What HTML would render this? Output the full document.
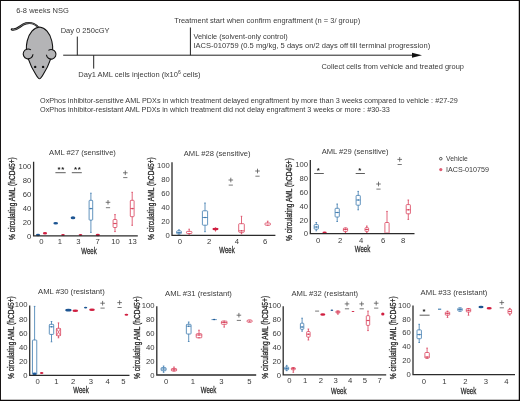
<!DOCTYPE html>
<html><head><meta charset="utf-8"><title>AML PDX OxPhos inhibitor figure</title>
<style>
html,body{margin:0;padding:0;background:#fff;}
svg{display:block;font-family:"Liberation Sans",sans-serif;}
</style></head><body>
<svg width="520" height="401" viewBox="0 0 520 401">
<rect x="0" y="0" width="520" height="401" fill="#fff"/>
<path d="M0 0H520V401H0ZM0.95 1.05V399.75H518.75V1.05Z" fill="#0d0a0a" fill-rule="evenodd"/>
<text x="16.2" y="12.7" font-size="7.4" fill="#3a3a3a" textLength="52.6" lengthAdjust="spacingAndGlyphs">6-8 weeks NSG</text>
<text x="60.7" y="33.4" font-size="7.4" fill="#3a3a3a" textLength="48.8" lengthAdjust="spacingAndGlyphs">Day 0 250cGY</text>
<text x="78.3" y="77.0" font-size="7.4" fill="#3a3a3a" textLength="122.2" lengthAdjust="spacingAndGlyphs">Day1 AML cells injection (lx10<tspan font-size="5" dy="-2.8">6</tspan><tspan dy="2.8"> cells)</tspan></text>
<text x="174.2" y="23.4" font-size="7.4" fill="#3a3a3a" textLength="186" lengthAdjust="spacingAndGlyphs">Treatment start when confirm engraftment (n = 3/ group)</text>
<text x="193.4" y="38.6" font-size="7.4" fill="#3a3a3a" textLength="94.2" lengthAdjust="spacingAndGlyphs">Vehicle (solvent-only control)</text>
<text x="193.4" y="48.0" font-size="7.4" fill="#3a3a3a" textLength="236.8" lengthAdjust="spacingAndGlyphs">IACS-010759 (0.5 mg/kg, 5 days on/2 days off till terminal progression)</text>
<text x="321.5" y="68.6" font-size="7.4" fill="#3a3a3a" textLength="142.4" lengthAdjust="spacingAndGlyphs">Collect cells from vehicle and treated group</text>
<text x="40" y="102.6" font-size="7.3" fill="#3a3a3a" textLength="417.7" lengthAdjust="spacingAndGlyphs">OxPhos inhibitor-sensitive AML PDXs in which treatment delayed engraftment by more than 3 weeks compared to vehicle : #27-29</text>
<text x="40" y="112.4" font-size="7.3" fill="#3a3a3a" textLength="349.8" lengthAdjust="spacingAndGlyphs">OxPhos inhibitor-resistant AML PDXs in which treatment did not delay engraftment 3 weeks or more : #30-33</text>
<path d="M63.2 55.2H414M77.3 36.6V55.2M93.7 55.2V68.6M190.4 27.5V55.2" stroke="#222" stroke-width="1" fill="none"/>
<path d="M412 52.7L422 55.2L412 57.7Z" fill="#111"/>
<g stroke="#111" stroke-width="1.1" fill="#b4b4b6" stroke-linejoin="round">
<path d="M11.8 29.4C17.5 30.8 20 25 26 23.4C31.5 22.2 36.5 24.5 39 28.6" fill="none" stroke-width="2.2" stroke-linecap="round"/>
<path d="M12 29.4C17.5 30.8 20 25 26 23.4C31.5 22.2 36.5 24.5 39 28.6" fill="none" stroke="#b4b4b6" stroke-width="0.55"/>
<path d="M39.5 27C45 27.5 50 33 51.8 41C53.5 48 52.6 54 50.6 59.2C49.2 63.5 46.2 69.8 43.3 74.2C42.2 76.2 41.3 77.3 40.7 78Q39.5 79.5 38.3 78C37.7 77.3 36.8 76.2 35.7 74.2C32.8 69.8 29.8 63.5 28.4 59.2C26.4 54 25.5 48 27.2 41C29 33 34 27.5 39.5 27Z"/>
<path d="M30.9 49.9A4.9 4.9 0 1 0 33 54.3"/>
<path d="M48.4 50.4A4.8 4.8 0 1 1 46.4 54.8"/>
<circle cx="35.2" cy="66.9" r="1.2" fill="#111" stroke="none"/><circle cx="43.1" cy="66.9" r="1.2" fill="#111" stroke="none"/>
</g>
<circle cx="440.8" cy="158.7" r="1.3" fill="#fff" stroke="#444" stroke-width="0.9"/>
<circle cx="440.8" cy="169.6" r="1.6" fill="#d9405a" opacity="0.85"/>
<text x="446" y="160.8" font-size="7.4" fill="#3a3a3a" textLength="21.8" lengthAdjust="spacingAndGlyphs">Vehicle</text>
<text x="446" y="172.0" font-size="7.4" fill="#3a3a3a" textLength="42.9" lengthAdjust="spacingAndGlyphs">IACS-010759</text>
<text x="31.400000000000002" y="238.55" font-size="7.7" text-anchor="end" fill="#3a3a3a" >0</text>
<text x="31.400000000000002" y="224.61" font-size="7.7" text-anchor="end" fill="#3a3a3a" >20</text>
<text x="31.400000000000002" y="210.67" font-size="7.7" text-anchor="end" fill="#3a3a3a" >40</text>
<text x="31.400000000000002" y="196.73" font-size="7.7" text-anchor="end" fill="#3a3a3a" >60</text>
<text x="31.400000000000002" y="182.79" font-size="7.7" text-anchor="end" fill="#3a3a3a" >80</text>
<text x="31.400000000000002" y="168.85" font-size="7.7" text-anchor="end" fill="#3a3a3a" >100</text>
<text x="41.5" y="244.2" font-size="7.7" text-anchor="middle" fill="#3a3a3a" >0</text>
<text x="59.8" y="244.2" font-size="7.7" text-anchor="middle" fill="#3a3a3a" >1</text>
<text x="78.5" y="244.2" font-size="7.7" text-anchor="middle" fill="#3a3a3a" >3</text>
<text x="97.6" y="244.2" font-size="7.7" text-anchor="middle" fill="#3a3a3a" >7</text>
<text x="115.6" y="244.2" font-size="7.7" text-anchor="middle" fill="#3a3a3a" >10</text>
<text x="132.6" y="244.2" font-size="7.7" text-anchor="middle" fill="#3a3a3a" >13</text>
<text x="82.5" y="155.3" font-size="7.4" text-anchor="middle" fill="#3a3a3a" textLength="66.8" lengthAdjust="spacingAndGlyphs">AML #27 (sensitive)</text>
<text x="89" y="254.4" font-size="9.2" text-anchor="middle" fill="#2a2a2a" stroke="#2a2a2a" stroke-width="0.3" textLength="15.4" lengthAdjust="spacingAndGlyphs">Week</text>
<text x="15.2" y="198.6" font-size="8.8" text-anchor="middle" fill="#2a2a2a" stroke="#2a2a2a" stroke-width="0.3" textLength="82.8" lengthAdjust="spacingAndGlyphs" transform="rotate(-90 15.2 198.6)">% circulating AML (hCD45+)</text>
<ellipse cx="38" cy="235" rx="2.1" ry="1.2" fill="#1d5592"/>
<ellipse cx="45" cy="233.3" rx="2.1" ry="1.2" fill="#d01f40"/>
<ellipse cx="55.7" cy="223.3" rx="2.35" ry="1.3" fill="#1d5592"/>
<ellipse cx="63" cy="235" rx="1.85" ry="1.05" fill="#d01f40"/>
<ellipse cx="73" cy="217.8" rx="2.35" ry="1.5" fill="#1d5592"/>
<ellipse cx="80.5" cy="235" rx="1.85" ry="1.05" fill="#d01f40"/>
<line x1="90.9" y1="193.2" x2="90.9" y2="232.4" stroke="#3b78ad" stroke-width="0.8"/>
<rect x="89.10000000000001" y="200.3" width="3.6" height="19.8" rx="0.7" fill="#fff" stroke="#3b78ad" stroke-width="0.8"/>
<line x1="89.10000000000001" y1="208.6" x2="92.7" y2="208.6" stroke="#3b78ad" stroke-width="0.8"/>
<circle cx="90.9" cy="208.6" r="0.8" fill="#3b78ad"/>
<line x1="90.10000000000001" y1="193.2" x2="91.7" y2="193.2" stroke="#3b78ad" stroke-width="0.8"/>
<line x1="90.10000000000001" y1="232.4" x2="91.7" y2="232.4" stroke="#3b78ad" stroke-width="0.8"/>
<ellipse cx="97.8" cy="235" rx="2.1" ry="1.2" fill="#d01f40"/>
<path d="M105.7 202.3H110.3M108 200.0V204.60000000000002M105.9 207.7H110.1" stroke="#555" stroke-width="0.8" fill="none"/>
<line x1="115" y1="214.6" x2="115" y2="231.6" stroke="#d9405a" stroke-width="0.8"/>
<rect x="113.1" y="219.5" width="3.8" height="8.0" rx="0.7" fill="#fff" stroke="#d9405a" stroke-width="0.8"/>
<line x1="113.1" y1="223.5" x2="116.9" y2="223.5" stroke="#d9405a" stroke-width="0.8"/>
<circle cx="115" cy="223.5" r="0.8" fill="#d9405a"/>
<line x1="114.2" y1="214.6" x2="115.8" y2="214.6" stroke="#d9405a" stroke-width="0.8"/>
<line x1="114.2" y1="231.6" x2="115.8" y2="231.6" stroke="#d9405a" stroke-width="0.8"/>
<path d="M123.0 172.8H127.6M125.3 170.5V175.10000000000002M123.2 177.6H127.39999999999999" stroke="#555" stroke-width="0.8" fill="none"/>
<line x1="132.2" y1="192.3" x2="132.2" y2="225.3" stroke="#d9405a" stroke-width="0.8"/>
<rect x="130.29999999999998" y="200.3" width="3.8" height="16.4" rx="0.7" fill="#fff" stroke="#d9405a" stroke-width="0.8"/>
<line x1="130.29999999999998" y1="208.6" x2="134.1" y2="208.6" stroke="#d9405a" stroke-width="0.8"/>
<circle cx="132.2" cy="208.6" r="0.8" fill="#d9405a"/>
<line x1="131.39999999999998" y1="192.3" x2="133.0" y2="192.3" stroke="#d9405a" stroke-width="0.8"/>
<line x1="131.39999999999998" y1="225.3" x2="133.0" y2="225.3" stroke="#d9405a" stroke-width="0.8"/>
<text x="58.949999999999996" y="171.92" font-size="7.8" text-anchor="middle" fill="#1a1a1a" font-weight="bold">*</text>
<text x="62.65" y="171.92" font-size="7.8" text-anchor="middle" fill="#1a1a1a" font-weight="bold">*</text>
<line x1="55.4" y1="172.7" x2="65.7" y2="172.7" stroke="#333" stroke-width="0.8"/>
<text x="75.55000000000001" y="171.92" font-size="7.8" text-anchor="middle" fill="#1a1a1a" font-weight="bold">*</text>
<text x="79.25" y="171.92" font-size="7.8" text-anchor="middle" fill="#1a1a1a" font-weight="bold">*</text>
<line x1="71.8" y1="172.7" x2="81.8" y2="172.7" stroke="#333" stroke-width="0.8"/>
<path d="M33.6 161.7V235.8H137.8" stroke="#2b2b2b" stroke-width="1.3" fill="none"/>
<text x="169.8" y="238.05" font-size="7.7" text-anchor="end" fill="#3a3a3a" >0</text>
<text x="169.8" y="224.03" font-size="7.7" text-anchor="end" fill="#3a3a3a" >20</text>
<text x="169.8" y="210.01" font-size="7.7" text-anchor="end" fill="#3a3a3a" >40</text>
<text x="169.8" y="195.99" font-size="7.7" text-anchor="end" fill="#3a3a3a" >60</text>
<text x="169.8" y="181.97" font-size="7.7" text-anchor="end" fill="#3a3a3a" >80</text>
<text x="169.8" y="167.95" font-size="7.7" text-anchor="end" fill="#3a3a3a" >100</text>
<text x="180" y="244.3" font-size="7.7" text-anchor="middle" fill="#3a3a3a" >0</text>
<text x="209.2" y="244.3" font-size="7.7" text-anchor="middle" fill="#3a3a3a" >2</text>
<text x="236.9" y="244.3" font-size="7.7" text-anchor="middle" fill="#3a3a3a" >4</text>
<text x="265.2" y="244.3" font-size="7.7" text-anchor="middle" fill="#3a3a3a" >6</text>
<text x="217.2" y="155.7" font-size="7.4" text-anchor="middle" fill="#3a3a3a" textLength="66.8" lengthAdjust="spacingAndGlyphs">AML #28 (sensitive)</text>
<text x="227" y="252.6" font-size="9.2" text-anchor="middle" fill="#2a2a2a" stroke="#2a2a2a" stroke-width="0.3" textLength="15.4" lengthAdjust="spacingAndGlyphs">Week</text>
<text x="154.3" y="198.6" font-size="8.8" text-anchor="middle" fill="#2a2a2a" stroke="#2a2a2a" stroke-width="0.3" textLength="82.8" lengthAdjust="spacingAndGlyphs" transform="rotate(-90 154.3 198.6)">% circulating AML (hCD45+)</text>
<line x1="179" y1="229.8" x2="179" y2="234.2" stroke="#3b78ad" stroke-width="0.8"/>
<rect x="176.7" y="230.8" width="4.6" height="3.0" rx="0.7" fill="#fff" stroke="#3b78ad" stroke-width="0.8"/>
<line x1="176.7" y1="232.5" x2="181.3" y2="232.5" stroke="#3b78ad" stroke-width="0.8"/>
<circle cx="179" cy="232.5" r="0.8" fill="#3b78ad"/>
<line x1="178.2" y1="229.8" x2="179.8" y2="229.8" stroke="#3b78ad" stroke-width="0.8"/>
<line x1="178.2" y1="234.2" x2="179.8" y2="234.2" stroke="#3b78ad" stroke-width="0.8"/>
<line x1="189.2" y1="229.2" x2="189.2" y2="234.2" stroke="#d9405a" stroke-width="0.8"/>
<rect x="186.5" y="231.4" width="5.4" height="2.1" rx="0.7" fill="#fff" stroke="#d9405a" stroke-width="0.8"/>
<line x1="188.39999999999998" y1="229.2" x2="190.0" y2="229.2" stroke="#d9405a" stroke-width="0.8"/>
<line x1="188.39999999999998" y1="234.2" x2="190.0" y2="234.2" stroke="#d9405a" stroke-width="0.8"/>
<line x1="205" y1="203" x2="205" y2="231.7" stroke="#3b78ad" stroke-width="0.8"/>
<rect x="202.4" y="210.8" width="5.2" height="14.4" rx="0.7" fill="#fff" stroke="#3b78ad" stroke-width="0.8"/>
<line x1="202.4" y1="217.5" x2="207.6" y2="217.5" stroke="#3b78ad" stroke-width="0.8"/>
<circle cx="205" cy="217.5" r="0.8" fill="#3b78ad"/>
<line x1="204.2" y1="203" x2="205.8" y2="203" stroke="#3b78ad" stroke-width="0.8"/>
<line x1="204.2" y1="231.7" x2="205.8" y2="231.7" stroke="#3b78ad" stroke-width="0.8"/>
<line x1="215.5" y1="227.3" x2="215.5" y2="231.6" stroke="#d9405a" stroke-width="0.8"/>
<ellipse cx="215.5" cy="229.1" rx="3.05" ry="1.4" fill="#d01f40"/>
<path d="M228.5 180H233.10000000000002M230.8 177.7V182.3M228.70000000000002 185.1H232.9" stroke="#555" stroke-width="0.8" fill="none"/>
<line x1="241.5" y1="216.3" x2="241.5" y2="233.8" stroke="#d9405a" stroke-width="0.8"/>
<rect x="238.7" y="223.7" width="5.6" height="8.6" rx="0.7" fill="#fff" stroke="#d9405a" stroke-width="0.8"/>
<line x1="238.7" y1="230.8" x2="244.3" y2="230.8" stroke="#d9405a" stroke-width="0.8"/>
<circle cx="241.5" cy="230.8" r="0.8" fill="#d9405a"/>
<line x1="240.7" y1="216.3" x2="242.3" y2="216.3" stroke="#d9405a" stroke-width="0.8"/>
<line x1="240.7" y1="233.8" x2="242.3" y2="233.8" stroke="#d9405a" stroke-width="0.8"/>
<path d="M255.2 171H259.8M257.5 168.7V173.3M255.4 176.2H259.6" stroke="#555" stroke-width="0.8" fill="none"/>
<line x1="267.7" y1="221.2" x2="267.7" y2="225.2" stroke="#d9405a" stroke-width="0.8"/>
<rect x="265.0" y="223" width="5.4" height="2.2" rx="0.7" fill="#fff" stroke="#d9405a" stroke-width="0.8"/>
<line x1="266.9" y1="221.2" x2="268.5" y2="221.2" stroke="#d9405a" stroke-width="0.8"/>
<line x1="266.9" y1="225.2" x2="268.5" y2="225.2" stroke="#d9405a" stroke-width="0.8"/>
<path d="M172 162.2V235.3H275.4" stroke="#2b2b2b" stroke-width="1.3" fill="none"/>
<text x="308.1" y="236.45" font-size="7.7" text-anchor="end" fill="#3a3a3a" >0</text>
<text x="308.1" y="222.57" font-size="7.7" text-anchor="end" fill="#3a3a3a" >20</text>
<text x="308.1" y="208.69" font-size="7.7" text-anchor="end" fill="#3a3a3a" >40</text>
<text x="308.1" y="194.81" font-size="7.7" text-anchor="end" fill="#3a3a3a" >60</text>
<text x="308.1" y="180.93" font-size="7.7" text-anchor="end" fill="#3a3a3a" >80</text>
<text x="308.1" y="167.05" font-size="7.7" text-anchor="end" fill="#3a3a3a" >100</text>
<text x="318.1" y="242.9" font-size="7.7" text-anchor="middle" fill="#3a3a3a" >0</text>
<text x="340.1" y="242.9" font-size="7.7" text-anchor="middle" fill="#3a3a3a" >2</text>
<text x="361.2" y="242.9" font-size="7.7" text-anchor="middle" fill="#3a3a3a" >4</text>
<text x="383.1" y="242.9" font-size="7.7" text-anchor="middle" fill="#3a3a3a" >6</text>
<text x="403.2" y="242.9" font-size="7.7" text-anchor="middle" fill="#3a3a3a" >8</text>
<text x="355.1" y="153.7" font-size="7.4" text-anchor="middle" fill="#3a3a3a" textLength="66.8" lengthAdjust="spacingAndGlyphs">AML #29 (sensitive)</text>
<text x="362.5" y="252.2" font-size="9.2" text-anchor="middle" fill="#2a2a2a" stroke="#2a2a2a" stroke-width="0.3" textLength="15.4" lengthAdjust="spacingAndGlyphs">Week</text>
<text x="291.9" y="199.5" font-size="8.8" text-anchor="middle" fill="#2a2a2a" stroke="#2a2a2a" stroke-width="0.3" textLength="82.8" lengthAdjust="spacingAndGlyphs" transform="rotate(-90 291.9 199.5)">% circulating AML (hCD45+)</text>
<line x1="316.3" y1="222.5" x2="316.3" y2="230.8" stroke="#3b78ad" stroke-width="0.8"/>
<rect x="314.2" y="224.6" width="4.2" height="4.6" rx="0.7" fill="#fff" stroke="#3b78ad" stroke-width="0.8"/>
<line x1="314.2" y1="227" x2="318.40000000000003" y2="227" stroke="#3b78ad" stroke-width="0.8"/>
<circle cx="316.3" cy="227" r="0.8" fill="#3b78ad"/>
<line x1="315.5" y1="222.5" x2="317.1" y2="222.5" stroke="#3b78ad" stroke-width="0.8"/>
<line x1="315.5" y1="230.8" x2="317.1" y2="230.8" stroke="#3b78ad" stroke-width="0.8"/>
<ellipse cx="324.6" cy="232.6" rx="2.15" ry="1.1" fill="#d01f40"/>
<text x="318.2" y="172.72" font-size="7.8" text-anchor="middle" fill="#1a1a1a" font-weight="bold">*</text>
<line x1="314.2" y1="173.5" x2="323.8" y2="173.5" stroke="#333" stroke-width="0.8"/>
<line x1="337.2" y1="204" x2="337.2" y2="221.5" stroke="#3b78ad" stroke-width="0.8"/>
<rect x="335.09999999999997" y="208.3" width="4.2" height="8.7" rx="0.7" fill="#fff" stroke="#3b78ad" stroke-width="0.8"/>
<line x1="335.09999999999997" y1="212.5" x2="339.3" y2="212.5" stroke="#3b78ad" stroke-width="0.8"/>
<circle cx="337.2" cy="212.5" r="0.8" fill="#3b78ad"/>
<line x1="336.4" y1="204" x2="338.0" y2="204" stroke="#3b78ad" stroke-width="0.8"/>
<line x1="336.4" y1="221.5" x2="338.0" y2="221.5" stroke="#3b78ad" stroke-width="0.8"/>
<line x1="345.5" y1="228" x2="345.5" y2="233" stroke="#d9405a" stroke-width="0.8"/>
<rect x="343.4" y="228" width="4.2" height="3.4" rx="0.7" fill="#fff" stroke="#d9405a" stroke-width="0.8"/>
<line x1="343.4" y1="229.5" x2="347.6" y2="229.5" stroke="#d9405a" stroke-width="0.8"/>
<circle cx="345.5" cy="229.5" r="0.8" fill="#d9405a"/>
<line x1="344.7" y1="228" x2="346.3" y2="228" stroke="#d9405a" stroke-width="0.8"/>
<line x1="344.7" y1="233" x2="346.3" y2="233" stroke="#d9405a" stroke-width="0.8"/>
<line x1="358.2" y1="191.4" x2="358.2" y2="209.8" stroke="#3b78ad" stroke-width="0.8"/>
<rect x="356.09999999999997" y="195.4" width="4.2" height="9.8" rx="0.7" fill="#fff" stroke="#3b78ad" stroke-width="0.8"/>
<line x1="356.09999999999997" y1="200" x2="360.3" y2="200" stroke="#3b78ad" stroke-width="0.8"/>
<circle cx="358.2" cy="200" r="0.8" fill="#3b78ad"/>
<line x1="357.4" y1="191.4" x2="359.0" y2="191.4" stroke="#3b78ad" stroke-width="0.8"/>
<line x1="357.4" y1="209.8" x2="359.0" y2="209.8" stroke="#3b78ad" stroke-width="0.8"/>
<text x="359.8" y="172.72" font-size="7.8" text-anchor="middle" fill="#1a1a1a" font-weight="bold">*</text>
<line x1="355.7" y1="173.5" x2="364.9" y2="173.5" stroke="#333" stroke-width="0.8"/>
<line x1="366.8" y1="226" x2="366.8" y2="233" stroke="#d9405a" stroke-width="0.8"/>
<rect x="365.0" y="227.7" width="3.6" height="3.7" rx="0.7" fill="#fff" stroke="#d9405a" stroke-width="0.8"/>
<line x1="365.0" y1="229.5" x2="368.6" y2="229.5" stroke="#d9405a" stroke-width="0.8"/>
<circle cx="366.8" cy="229.5" r="0.8" fill="#d9405a"/>
<line x1="366.0" y1="226" x2="367.6" y2="226" stroke="#d9405a" stroke-width="0.8"/>
<line x1="366.0" y1="233" x2="367.6" y2="233" stroke="#d9405a" stroke-width="0.8"/>
<path d="M376.2 184H380.8M378.5 181.7V186.3M376.4 189.1H380.6" stroke="#555" stroke-width="0.8" fill="none"/>
<line x1="387" y1="211.4" x2="387" y2="233.2" stroke="#d9405a" stroke-width="0.8"/>
<rect x="384.9" y="222.5" width="4.2" height="10.7" rx="0.7" fill="#fff" stroke="#d9405a" stroke-width="0.8"/>
<line x1="386.2" y1="211.4" x2="387.8" y2="211.4" stroke="#d9405a" stroke-width="0.8"/>
<line x1="386.2" y1="233.2" x2="387.8" y2="233.2" stroke="#d9405a" stroke-width="0.8"/>
<path d="M397.4 159.4H402.0M399.7 157.1V161.70000000000002M397.59999999999997 164.5H401.8" stroke="#555" stroke-width="0.8" fill="none"/>
<line x1="408.3" y1="200" x2="408.3" y2="219.4" stroke="#d9405a" stroke-width="0.8"/>
<rect x="406.2" y="204.6" width="4.2" height="9.2" rx="0.7" fill="#fff" stroke="#d9405a" stroke-width="0.8"/>
<line x1="406.2" y1="209.8" x2="410.40000000000003" y2="209.8" stroke="#d9405a" stroke-width="0.8"/>
<circle cx="408.3" cy="209.8" r="0.8" fill="#d9405a"/>
<line x1="407.5" y1="200" x2="409.1" y2="200" stroke="#d9405a" stroke-width="0.8"/>
<line x1="407.5" y1="219.4" x2="409.1" y2="219.4" stroke="#d9405a" stroke-width="0.8"/>
<path d="M310.3 160V233.7H414.5" stroke="#2b2b2b" stroke-width="1.3" fill="none"/>
<text x="27.5" y="378.15" font-size="7.7" text-anchor="end" fill="#3a3a3a" >0</text>
<text x="27.5" y="363.99" font-size="7.7" text-anchor="end" fill="#3a3a3a" >20</text>
<text x="27.5" y="349.83" font-size="7.7" text-anchor="end" fill="#3a3a3a" >40</text>
<text x="27.5" y="335.67" font-size="7.7" text-anchor="end" fill="#3a3a3a" >60</text>
<text x="27.5" y="321.51" font-size="7.7" text-anchor="end" fill="#3a3a3a" >80</text>
<text x="27.5" y="307.35" font-size="7.7" text-anchor="end" fill="#3a3a3a" >100</text>
<text x="37.7" y="383.5" font-size="7.7" text-anchor="middle" fill="#3a3a3a" >0</text>
<text x="56.5" y="383.5" font-size="7.7" text-anchor="middle" fill="#3a3a3a" >1</text>
<text x="73.1" y="383.5" font-size="7.7" text-anchor="middle" fill="#3a3a3a" >2</text>
<text x="91" y="383.5" font-size="7.7" text-anchor="middle" fill="#3a3a3a" >3</text>
<text x="107.7" y="383.5" font-size="7.7" text-anchor="middle" fill="#3a3a3a" >4</text>
<text x="123.4" y="383.5" font-size="7.7" text-anchor="middle" fill="#3a3a3a" >5</text>
<text x="71.4" y="294.3" font-size="7.4" text-anchor="middle" fill="#3a3a3a" textLength="66.8" lengthAdjust="spacingAndGlyphs">AML #30 (resistant)</text>
<text x="81" y="392.8" font-size="9.2" text-anchor="middle" fill="#2a2a2a" stroke="#2a2a2a" stroke-width="0.3" textLength="15.4" lengthAdjust="spacingAndGlyphs">Week</text>
<text x="13.9" y="337.6" font-size="8.8" text-anchor="middle" fill="#2a2a2a" stroke="#2a2a2a" stroke-width="0.3" textLength="82.8" lengthAdjust="spacingAndGlyphs" transform="rotate(-90 13.9 337.6)">% circulating AML (hCD45+)</text>
<line x1="34.6" y1="306.4" x2="34.6" y2="374.4" stroke="#3b78ad" stroke-width="0.8"/>
<rect x="32.45" y="340" width="4.3" height="34.4" rx="0.7" fill="#fff" stroke="#3b78ad" stroke-width="0.8"/>
<line x1="33.800000000000004" y1="306.4" x2="35.4" y2="306.4" stroke="#3b78ad" stroke-width="0.8"/>
<line x1="33.800000000000004" y1="374.4" x2="35.4" y2="374.4" stroke="#3b78ad" stroke-width="0.8"/>
<ellipse cx="34.6" cy="373.8" rx="2.05" ry="1.4" fill="#1f5c9e"/>
<ellipse cx="41.7" cy="373.0" rx="1.75" ry="1.0" fill="#d01f40"/>
<line x1="51.5" y1="321.5" x2="51.5" y2="341.8" stroke="#3b78ad" stroke-width="0.8"/>
<rect x="49.3" y="324.3" width="4.4" height="10.1" rx="0.7" fill="#fff" stroke="#3b78ad" stroke-width="0.8"/>
<line x1="49.3" y1="326.8" x2="53.7" y2="326.8" stroke="#3b78ad" stroke-width="0.8"/>
<circle cx="51.5" cy="326.8" r="0.8" fill="#3b78ad"/>
<line x1="50.7" y1="321.5" x2="52.3" y2="321.5" stroke="#3b78ad" stroke-width="0.8"/>
<line x1="50.7" y1="341.8" x2="52.3" y2="341.8" stroke="#3b78ad" stroke-width="0.8"/>
<line x1="58.5" y1="322.9" x2="58.5" y2="337.8" stroke="#d9405a" stroke-width="0.8"/>
<rect x="56.4" y="328.3" width="4.2" height="7.5" rx="0.7" fill="#fff" stroke="#d9405a" stroke-width="0.8"/>
<line x1="57.7" y1="322.9" x2="59.3" y2="322.9" stroke="#d9405a" stroke-width="0.8"/>
<line x1="57.7" y1="337.8" x2="59.3" y2="337.8" stroke="#d9405a" stroke-width="0.8"/>
<path d="M56.6 328.6L60.4 335.5M60.4 328.6L56.6 335.5" stroke="#d9405a" stroke-width="0.7" fill="none"/>
<ellipse cx="68.4" cy="310.2" rx="3.15" ry="1.4" fill="#1d5592"/>
<ellipse cx="75.3" cy="310.8" rx="2.85" ry="1.3" fill="#d01f40"/>
<ellipse cx="85.6" cy="307.6" rx="1.65" ry="0.9" fill="#1d5592"/>
<ellipse cx="92" cy="309.8" rx="2.85" ry="1.3" fill="#d01f40"/>
<path d="M100.3 303.2H104.89999999999999M102.6 300.9V305.5M100.5 308.1H104.69999999999999" stroke="#555" stroke-width="0.8" fill="none"/>
<path d="M117.3 302.6H121.89999999999999M119.6 300.3V304.90000000000003M117.5 307.5H121.69999999999999" stroke="#555" stroke-width="0.8" fill="none"/>
<ellipse cx="126.4" cy="314.8" rx="1.85" ry="1.0" fill="#d01f40"/>
<path d="M29.7 305.5V375.4H129.5" stroke="#2b2b2b" stroke-width="1.3" fill="none"/>
<text x="154.60000000000002" y="377.75" font-size="7.7" text-anchor="end" fill="#3a3a3a" >0</text>
<text x="154.60000000000002" y="363.75" font-size="7.7" text-anchor="end" fill="#3a3a3a" >20</text>
<text x="154.60000000000002" y="349.75" font-size="7.7" text-anchor="end" fill="#3a3a3a" >40</text>
<text x="154.60000000000002" y="335.75" font-size="7.7" text-anchor="end" fill="#3a3a3a" >60</text>
<text x="154.60000000000002" y="321.75" font-size="7.7" text-anchor="end" fill="#3a3a3a" >80</text>
<text x="154.60000000000002" y="307.75" font-size="7.7" text-anchor="end" fill="#3a3a3a" >100</text>
<text x="166.1" y="383.5" font-size="7.7" text-anchor="middle" fill="#3a3a3a" >0</text>
<text x="192.8" y="383.5" font-size="7.7" text-anchor="middle" fill="#3a3a3a" >1</text>
<text x="221.3" y="383.5" font-size="7.7" text-anchor="middle" fill="#3a3a3a" >3</text>
<text x="249.3" y="383.5" font-size="7.7" text-anchor="middle" fill="#3a3a3a" >5</text>
<text x="198.5" y="295.5" font-size="7.4" text-anchor="middle" fill="#3a3a3a" textLength="66.8" lengthAdjust="spacingAndGlyphs">AML #31 (resistant)</text>
<text x="208.5" y="393" font-size="9.2" text-anchor="middle" fill="#2a2a2a" stroke="#2a2a2a" stroke-width="0.3" textLength="15.4" lengthAdjust="spacingAndGlyphs">Week</text>
<text x="139.7" y="337.6" font-size="8.8" text-anchor="middle" fill="#2a2a2a" stroke="#2a2a2a" stroke-width="0.3" textLength="82.8" lengthAdjust="spacingAndGlyphs" transform="rotate(-90 139.7 337.6)">% circulating AML (hCD45+)</text>
<line x1="163.6" y1="366" x2="163.6" y2="372.3" stroke="#3b78ad" stroke-width="0.8"/>
<rect x="161.1" y="367.6" width="5" height="3.1" rx="0.7" fill="#fff" stroke="#3b78ad" stroke-width="0.8"/>
<line x1="161.1" y1="369" x2="166.1" y2="369" stroke="#3b78ad" stroke-width="0.8"/>
<circle cx="163.6" cy="369" r="0.8" fill="#3b78ad"/>
<line x1="162.79999999999998" y1="366" x2="164.4" y2="366" stroke="#3b78ad" stroke-width="0.8"/>
<line x1="162.79999999999998" y1="372.3" x2="164.4" y2="372.3" stroke="#3b78ad" stroke-width="0.8"/>
<line x1="174" y1="367" x2="174" y2="371" stroke="#d9405a" stroke-width="0.8"/>
<rect x="171.4" y="368.5" width="5.2" height="2.5" rx="0.7" fill="#fff" stroke="#d9405a" stroke-width="0.8"/>
<line x1="171.4" y1="369.8" x2="176.6" y2="369.8" stroke="#d9405a" stroke-width="0.8"/>
<circle cx="174" cy="369.8" r="0.8" fill="#d9405a"/>
<line x1="173.2" y1="367" x2="174.8" y2="367" stroke="#d9405a" stroke-width="0.8"/>
<line x1="173.2" y1="371" x2="174.8" y2="371" stroke="#d9405a" stroke-width="0.8"/>
<line x1="188.7" y1="322" x2="188.7" y2="341.5" stroke="#3b78ad" stroke-width="0.8"/>
<rect x="186.35" y="324.3" width="4.7" height="9.7" rx="0.7" fill="#fff" stroke="#3b78ad" stroke-width="0.8"/>
<line x1="186.35" y1="326.2" x2="191.04999999999998" y2="326.2" stroke="#3b78ad" stroke-width="0.8"/>
<circle cx="188.7" cy="326.2" r="0.8" fill="#3b78ad"/>
<line x1="187.89999999999998" y1="322" x2="189.5" y2="322" stroke="#3b78ad" stroke-width="0.8"/>
<line x1="187.89999999999998" y1="341.5" x2="189.5" y2="341.5" stroke="#3b78ad" stroke-width="0.8"/>
<line x1="199" y1="330.2" x2="199" y2="337.8" stroke="#d9405a" stroke-width="0.8"/>
<rect x="196.2" y="333.7" width="5.6" height="4.1" rx="0.7" fill="#fff" stroke="#d9405a" stroke-width="0.8"/>
<line x1="196.2" y1="335" x2="201.8" y2="335" stroke="#d9405a" stroke-width="0.8"/>
<circle cx="199" cy="335" r="0.8" fill="#d9405a"/>
<line x1="198.2" y1="330.2" x2="199.8" y2="330.2" stroke="#d9405a" stroke-width="0.8"/>
<line x1="198.2" y1="337.8" x2="199.8" y2="337.8" stroke="#d9405a" stroke-width="0.8"/>
<line x1="211.5" y1="319.6" x2="216.8" y2="319.6" stroke="#3b78ad" stroke-width="0.8"/>
<ellipse cx="214.1" cy="319.6" rx="0.95" ry="0.75" fill="#1d5592"/>
<line x1="224.2" y1="321.1" x2="224.2" y2="327.1" stroke="#d9405a" stroke-width="0.8"/>
<rect x="221.39999999999998" y="321.1" width="5.6" height="3.2" rx="0.7" fill="#fff" stroke="#d9405a" stroke-width="0.8"/>
<line x1="221.39999999999998" y1="322.5" x2="227.0" y2="322.5" stroke="#d9405a" stroke-width="0.8"/>
<circle cx="224.2" cy="322.5" r="0.8" fill="#d9405a"/>
<line x1="223.39999999999998" y1="321.1" x2="225.0" y2="321.1" stroke="#d9405a" stroke-width="0.8"/>
<line x1="223.39999999999998" y1="327.1" x2="225.0" y2="327.1" stroke="#d9405a" stroke-width="0.8"/>
<path d="M236.6 315.2H241.20000000000002M238.9 312.9V317.5M236.8 320.4H241.0" stroke="#555" stroke-width="0.8" fill="none"/>
<ellipse cx="249.6" cy="321.1" rx="2.7" ry="1.35" fill="#fff" stroke="#d9405a" stroke-width="0.8"/>
<ellipse cx="249.6" cy="321.1" rx="1.15" ry="0.6" fill="#d01f40"/>
<path d="M156.8 306.2V375.0H256.2" stroke="#2b2b2b" stroke-width="1.3" fill="none"/>
<text x="281.0" y="377.55" font-size="7.7" text-anchor="end" fill="#3a3a3a" >0</text>
<text x="281.0" y="363.59" font-size="7.7" text-anchor="end" fill="#3a3a3a" >20</text>
<text x="281.0" y="349.63" font-size="7.7" text-anchor="end" fill="#3a3a3a" >40</text>
<text x="281.0" y="335.67" font-size="7.7" text-anchor="end" fill="#3a3a3a" >60</text>
<text x="281.0" y="321.71" font-size="7.7" text-anchor="end" fill="#3a3a3a" >80</text>
<text x="281.0" y="307.75" font-size="7.7" text-anchor="end" fill="#3a3a3a" >100</text>
<text x="289.5" y="383" font-size="7.7" text-anchor="middle" fill="#3a3a3a" >0</text>
<text x="305.2" y="383" font-size="7.7" text-anchor="middle" fill="#3a3a3a" >1</text>
<text x="320.9" y="383" font-size="7.7" text-anchor="middle" fill="#3a3a3a" >2</text>
<text x="335.7" y="383" font-size="7.7" text-anchor="middle" fill="#3a3a3a" >3</text>
<text x="350.1" y="383" font-size="7.7" text-anchor="middle" fill="#3a3a3a" >4</text>
<text x="364.9" y="383" font-size="7.7" text-anchor="middle" fill="#3a3a3a" >5</text>
<text x="379.6" y="383" font-size="7.7" text-anchor="middle" fill="#3a3a3a" >7</text>
<text x="324.8" y="296.4" font-size="7.4" text-anchor="middle" fill="#3a3a3a" textLength="66.8" lengthAdjust="spacingAndGlyphs">AML #32 (resistant)</text>
<text x="338.8" y="393.6" font-size="9.2" text-anchor="middle" fill="#2a2a2a" stroke="#2a2a2a" stroke-width="0.3" textLength="15.4" lengthAdjust="spacingAndGlyphs">Week</text>
<text x="268" y="337.3" font-size="8.8" text-anchor="middle" fill="#2a2a2a" stroke="#2a2a2a" stroke-width="0.3" textLength="82.8" lengthAdjust="spacingAndGlyphs" transform="rotate(-90 268 337.3)">% circulating AML (hCD45+)</text>
<line x1="286.7" y1="365.4" x2="286.7" y2="370.7" stroke="#3b78ad" stroke-width="0.8"/>
<rect x="284.7" y="367" width="4" height="2.8" rx="0.7" fill="#fff" stroke="#3b78ad" stroke-width="0.8"/>
<line x1="284.7" y1="368.4" x2="288.7" y2="368.4" stroke="#3b78ad" stroke-width="0.8"/>
<circle cx="286.7" cy="368.4" r="0.8" fill="#3b78ad"/>
<line x1="285.9" y1="365.4" x2="287.5" y2="365.4" stroke="#3b78ad" stroke-width="0.8"/>
<line x1="285.9" y1="370.7" x2="287.5" y2="370.7" stroke="#3b78ad" stroke-width="0.8"/>
<line x1="293.3" y1="367.6" x2="293.3" y2="372.3" stroke="#d9405a" stroke-width="0.8"/>
<rect x="291.3" y="367.6" width="4" height="2.2" rx="0.7" fill="#fff" stroke="#d9405a" stroke-width="0.8"/>
<line x1="291.3" y1="368.6" x2="295.3" y2="368.6" stroke="#d9405a" stroke-width="0.8"/>
<circle cx="293.3" cy="368.6" r="0.8" fill="#d9405a"/>
<line x1="292.5" y1="367.6" x2="294.1" y2="367.6" stroke="#d9405a" stroke-width="0.8"/>
<line x1="292.5" y1="372.3" x2="294.1" y2="372.3" stroke="#d9405a" stroke-width="0.8"/>
<line x1="302.1" y1="318.2" x2="302.1" y2="331.2" stroke="#3b78ad" stroke-width="0.8"/>
<rect x="300.40000000000003" y="323.2" width="3.4" height="6.1" rx="0.7" fill="#fff" stroke="#3b78ad" stroke-width="0.8"/>
<line x1="300.40000000000003" y1="327" x2="303.8" y2="327" stroke="#3b78ad" stroke-width="0.8"/>
<circle cx="302.1" cy="327" r="0.8" fill="#3b78ad"/>
<line x1="301.3" y1="318.2" x2="302.90000000000003" y2="318.2" stroke="#3b78ad" stroke-width="0.8"/>
<line x1="301.3" y1="331.2" x2="302.90000000000003" y2="331.2" stroke="#3b78ad" stroke-width="0.8"/>
<line x1="308.4" y1="329" x2="308.4" y2="340" stroke="#d9405a" stroke-width="0.8"/>
<rect x="306.7" y="331.5" width="3.4" height="5.6" rx="0.7" fill="#fff" stroke="#d9405a" stroke-width="0.8"/>
<line x1="306.7" y1="334.2" x2="310.09999999999997" y2="334.2" stroke="#d9405a" stroke-width="0.8"/>
<circle cx="308.4" cy="334.2" r="0.8" fill="#d9405a"/>
<line x1="307.59999999999997" y1="329" x2="309.2" y2="329" stroke="#d9405a" stroke-width="0.8"/>
<line x1="307.59999999999997" y1="340" x2="309.2" y2="340" stroke="#d9405a" stroke-width="0.8"/>
<path d="M315.1 311.1H319.1" stroke="#555" stroke-width="0.8" fill="none"/>
<ellipse cx="322.8" cy="314.5" rx="2.55" ry="1.2" fill="#d01f40"/>
<ellipse cx="331.9" cy="310.2" rx="1.35" ry="0.75" fill="#1d5592"/>
<line x1="337.9" y1="311" x2="337.9" y2="314.2" stroke="#d9405a" stroke-width="0.8"/>
<rect x="335.9" y="311" width="4" height="2" rx="0.7" fill="#fff" stroke="#d9405a" stroke-width="0.8"/>
<line x1="335.9" y1="312" x2="339.9" y2="312" stroke="#d9405a" stroke-width="0.8"/>
<circle cx="337.9" cy="312" r="0.8" fill="#d9405a"/>
<line x1="337.09999999999997" y1="311" x2="338.7" y2="311" stroke="#d9405a" stroke-width="0.8"/>
<line x1="337.09999999999997" y1="314.2" x2="338.7" y2="314.2" stroke="#d9405a" stroke-width="0.8"/>
<path d="M344.7 303.9H349.3M347 301.59999999999997V306.2M344.9 308.8H349.1" stroke="#555" stroke-width="0.8" fill="none"/>
<ellipse cx="353.0" cy="311.5" rx="1.45" ry="0.6" fill="#d01f40"/>
<path d="M359.4 303.9H364.0M361.7 301.59999999999997V306.2M359.59999999999997 308.8H363.8" stroke="#555" stroke-width="0.8" fill="none"/>
<line x1="368" y1="311.1" x2="368" y2="330.6" stroke="#d9405a" stroke-width="0.8"/>
<rect x="366.3" y="315.7" width="3.4" height="9.7" rx="0.7" fill="#fff" stroke="#d9405a" stroke-width="0.8"/>
<line x1="366.3" y1="320.5" x2="369.7" y2="320.5" stroke="#d9405a" stroke-width="0.8"/>
<circle cx="368" cy="320.5" r="0.8" fill="#d9405a"/>
<line x1="367.2" y1="311.1" x2="368.8" y2="311.1" stroke="#d9405a" stroke-width="0.8"/>
<line x1="367.2" y1="330.6" x2="368.8" y2="330.6" stroke="#d9405a" stroke-width="0.8"/>
<path d="M373.9 303.2H378.5M376.2 300.9V305.5M374.09999999999997 308.1H378.3" stroke="#555" stroke-width="0.8" fill="none"/>
<ellipse cx="382.8" cy="314" rx="1.65" ry="1.5" fill="#d01f40"/>
<path d="M283.2 306.2V374.8H386.2" stroke="#2b2b2b" stroke-width="1.3" fill="none"/>
<text x="410.8" y="377.35" font-size="7.7" text-anchor="end" fill="#3a3a3a" >0</text>
<text x="410.8" y="363.39" font-size="7.7" text-anchor="end" fill="#3a3a3a" >20</text>
<text x="410.8" y="349.43" font-size="7.7" text-anchor="end" fill="#3a3a3a" >40</text>
<text x="410.8" y="335.47" font-size="7.7" text-anchor="end" fill="#3a3a3a" >60</text>
<text x="410.8" y="321.51" font-size="7.7" text-anchor="end" fill="#3a3a3a" >80</text>
<text x="410.8" y="307.55" font-size="7.7" text-anchor="end" fill="#3a3a3a" >100</text>
<text x="424" y="383.5" font-size="7.7" text-anchor="middle" fill="#3a3a3a" >0</text>
<text x="444.3" y="383.5" font-size="7.7" text-anchor="middle" fill="#3a3a3a" >1</text>
<text x="465.4" y="383.5" font-size="7.7" text-anchor="middle" fill="#3a3a3a" >2</text>
<text x="485.8" y="383.5" font-size="7.7" text-anchor="middle" fill="#3a3a3a" >3</text>
<text x="506.5" y="383.5" font-size="7.7" text-anchor="middle" fill="#3a3a3a" >4</text>
<text x="454" y="295.3" font-size="7.4" text-anchor="middle" fill="#3a3a3a" textLength="66.8" lengthAdjust="spacingAndGlyphs">AML #33 (resistant)</text>
<text x="468.5" y="393.6" font-size="9.2" text-anchor="middle" fill="#2a2a2a" stroke="#2a2a2a" stroke-width="0.3" textLength="15.4" lengthAdjust="spacingAndGlyphs">Week</text>
<text x="395.6" y="337.8" font-size="8.8" text-anchor="middle" fill="#2a2a2a" stroke="#2a2a2a" stroke-width="0.3" textLength="82.8" lengthAdjust="spacingAndGlyphs" transform="rotate(-90 395.6 337.8)">% circulating AML (hCD45+)</text>
<line x1="419.2" y1="324.3" x2="419.2" y2="342.5" stroke="#3b78ad" stroke-width="0.8"/>
<rect x="417.0" y="329.9" width="4.4" height="8.8" rx="0.7" fill="#fff" stroke="#3b78ad" stroke-width="0.8"/>
<line x1="417.0" y1="334.6" x2="421.4" y2="334.6" stroke="#3b78ad" stroke-width="0.8"/>
<circle cx="419.2" cy="334.6" r="0.8" fill="#3b78ad"/>
<line x1="418.4" y1="324.3" x2="420.0" y2="324.3" stroke="#3b78ad" stroke-width="0.8"/>
<line x1="418.4" y1="342.5" x2="420.0" y2="342.5" stroke="#3b78ad" stroke-width="0.8"/>
<text x="423.9" y="313.72" font-size="7.8" text-anchor="middle" fill="#1a1a1a" font-weight="bold">*</text>
<line x1="419.6" y1="315.2" x2="429.6" y2="315.2" stroke="#333" stroke-width="0.8"/>
<line x1="427.1" y1="348.1" x2="427.1" y2="358.2" stroke="#d9405a" stroke-width="0.8"/>
<rect x="424.90000000000003" y="352.5" width="4.4" height="5.7" rx="0.7" fill="#fff" stroke="#d9405a" stroke-width="0.8"/>
<line x1="424.90000000000003" y1="357" x2="429.3" y2="357" stroke="#d9405a" stroke-width="0.8"/>
<circle cx="427.1" cy="357" r="0.8" fill="#d9405a"/>
<line x1="426.3" y1="348.1" x2="427.90000000000003" y2="348.1" stroke="#d9405a" stroke-width="0.8"/>
<line x1="426.3" y1="358.2" x2="427.90000000000003" y2="358.2" stroke="#d9405a" stroke-width="0.8"/>
<line x1="438" y1="309.2" x2="441.2" y2="309.2" stroke="#3b78ad" stroke-width="1.1"/>
<line x1="447.5" y1="311.1" x2="447.5" y2="317.4" stroke="#d9405a" stroke-width="0.8"/>
<rect x="445.3" y="312" width="4.4" height="3.2" rx="0.7" fill="#fff" stroke="#d9405a" stroke-width="0.8"/>
<line x1="445.3" y1="313.6" x2="449.7" y2="313.6" stroke="#d9405a" stroke-width="0.8"/>
<circle cx="447.5" cy="313.6" r="0.8" fill="#d9405a"/>
<line x1="446.7" y1="311.1" x2="448.3" y2="311.1" stroke="#d9405a" stroke-width="0.8"/>
<line x1="446.7" y1="317.4" x2="448.3" y2="317.4" stroke="#d9405a" stroke-width="0.8"/>
<line x1="460" y1="308" x2="460" y2="311.1" stroke="#3b78ad" stroke-width="0.8"/>
<rect x="457.8" y="308" width="4.4" height="3.1" rx="0.7" fill="#fff" stroke="#3b78ad" stroke-width="0.8"/>
<line x1="457.8" y1="309.5" x2="462.2" y2="309.5" stroke="#3b78ad" stroke-width="0.8"/>
<circle cx="460" cy="309.5" r="0.8" fill="#3b78ad"/>
<line x1="459.2" y1="308" x2="460.8" y2="308" stroke="#3b78ad" stroke-width="0.8"/>
<line x1="459.2" y1="311.1" x2="460.8" y2="311.1" stroke="#3b78ad" stroke-width="0.8"/>
<line x1="468.5" y1="308.6" x2="468.5" y2="315.2" stroke="#d9405a" stroke-width="0.8"/>
<rect x="466.3" y="308.6" width="4.4" height="3.4" rx="0.7" fill="#fff" stroke="#d9405a" stroke-width="0.8"/>
<line x1="466.3" y1="310.3" x2="470.7" y2="310.3" stroke="#d9405a" stroke-width="0.8"/>
<circle cx="468.5" cy="310.3" r="0.8" fill="#d9405a"/>
<line x1="467.7" y1="308.6" x2="469.3" y2="308.6" stroke="#d9405a" stroke-width="0.8"/>
<line x1="467.7" y1="315.2" x2="469.3" y2="315.2" stroke="#d9405a" stroke-width="0.8"/>
<ellipse cx="481" cy="307" rx="2.55" ry="1.3" fill="#1d5592"/>
<ellipse cx="489.2" cy="308.3" rx="2.55" ry="1.3" fill="#d01f40"/>
<path d="M499.5 302.6H504.1M501.8 300.3V304.90000000000003M499.7 307.8H503.90000000000003" stroke="#555" stroke-width="0.8" fill="none"/>
<line x1="509.8" y1="308.4" x2="509.8" y2="315" stroke="#d9405a" stroke-width="0.8"/>
<rect x="508.0" y="309.3" width="3.6" height="4.5" rx="0.7" fill="#fff" stroke="#d9405a" stroke-width="0.8"/>
<line x1="508.0" y1="311.5" x2="511.6" y2="311.5" stroke="#d9405a" stroke-width="0.8"/>
<circle cx="509.8" cy="311.5" r="0.8" fill="#d9405a"/>
<line x1="509.0" y1="308.4" x2="510.6" y2="308.4" stroke="#d9405a" stroke-width="0.8"/>
<line x1="509.0" y1="315" x2="510.6" y2="315" stroke="#d9405a" stroke-width="0.8"/>
<path d="M413 305.5V374.6H515" stroke="#2b2b2b" stroke-width="1.3" fill="none"/>
</svg>
</body></html>
